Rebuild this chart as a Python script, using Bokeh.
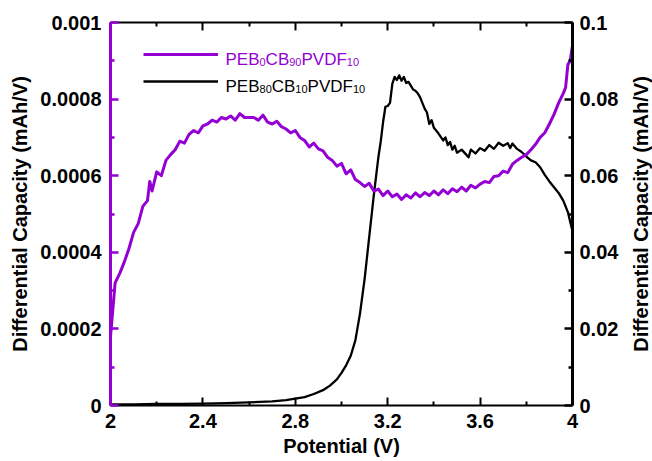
from bokeh.plotting import figure
from bokeh.layouts import row
from bokeh.models import (Range1d, LinearAxis, FixedTicker, CustomJSTickFormatter,
                          Legend, LegendItem)
from bokeh.core.properties import value
from bokeh.embed import file_html
from bokeh.resources import INLINE

# ---------------- data ----------------
potential_purple = [2.00, 2.01, 2.02, 2.04, 2.06, 2.08, 2.10, 2.12, 2.14, 2.16, 2.17, 2.18, 2.20,
                    2.22, 2.24, 2.26, 2.28, 2.30, 2.32, 2.34, 2.36, 2.38, 2.40, 2.42, 2.44,
                    2.46, 2.48, 2.50, 2.52, 2.54, 2.56, 2.58, 2.60, 2.62, 2.64, 2.66, 2.68,
                    2.70, 2.72, 2.74, 2.76, 2.78, 2.80, 2.82, 2.84, 2.86, 2.88, 2.90, 2.92,
                    2.94, 2.96, 2.98, 3.00, 3.02, 3.04, 3.06, 3.08, 3.10, 3.12, 3.14, 3.16,
                    3.18, 3.20, 3.22, 3.24, 3.26, 3.28, 3.30, 3.32, 3.34, 3.36, 3.38, 3.40,
                    3.42, 3.44, 3.46, 3.48, 3.50, 3.52, 3.54, 3.56, 3.58, 3.60, 3.62, 3.64,
                    3.66, 3.68, 3.70, 3.72, 3.74, 3.76, 3.78, 3.80, 3.82, 3.84, 3.86, 3.88,
                    3.90, 3.92, 3.94, 3.96, 3.97, 3.98, 3.99, 4.00]
capacity_purple = [0.000180, 0.000250, 0.000320, 0.000345, 0.000375, 0.000410, 0.000452, 0.000475,
                   0.000520, 0.000535, 0.000585, 0.000560, 0.000610, 0.000600, 0.000640, 0.000655,
                   0.000668, 0.000690, 0.000685, 0.000708, 0.000718, 0.000712, 0.000730, 0.000735,
                   0.000745, 0.000740, 0.000752, 0.000748, 0.000756, 0.000745, 0.000762, 0.000752,
                   0.000752, 0.000752, 0.000745, 0.000758, 0.000740, 0.000735, 0.000742, 0.000728,
                   0.000722, 0.000712, 0.000718, 0.000700, 0.000692, 0.000675, 0.000685, 0.000670,
                   0.000665, 0.000648, 0.000640, 0.000625, 0.000632, 0.000605, 0.000615, 0.000590,
                   0.000582, 0.000572, 0.000580, 0.000560, 0.000565, 0.000548, 0.000560, 0.000545,
                   0.000552, 0.000538, 0.000550, 0.000542, 0.000555, 0.000545, 0.000556, 0.000548,
                   0.000560, 0.000550, 0.000563, 0.000553, 0.000566, 0.000558, 0.000570, 0.000560,
                   0.000575, 0.000568, 0.000578, 0.000585, 0.000582, 0.000598, 0.000600, 0.000612,
                   0.000608, 0.000630, 0.000640, 0.000648, 0.000655, 0.000668, 0.000682, 0.000700,
                   0.000712, 0.000735, 0.000760, 0.000790, 0.000815, 0.000830, 0.000890, 0.000900,
                   0.000940]

potential_black = [2.00, 2.10, 2.20, 2.30, 2.40, 2.50, 2.60, 2.70, 2.76, 2.80, 2.84, 2.88, 2.92,
                   2.95, 2.98, 3.00, 3.02, 3.04, 3.06, 3.08, 3.10, 3.12, 3.14, 3.16, 3.17, 3.18,
                   3.19, 3.20, 3.21, 3.22, 3.23, 3.24, 3.25, 3.26, 3.27, 3.28, 3.29, 3.30, 3.31,
                   3.32, 3.33, 3.34, 3.35, 3.36, 3.37, 3.38, 3.39, 3.40, 3.42, 3.44, 3.45, 3.46,
                   3.47, 3.48, 3.49, 3.50, 3.52, 3.54, 3.55, 3.56, 3.58, 3.60, 3.62, 3.64, 3.66,
                   3.68, 3.70, 3.72, 3.73, 3.74, 3.76, 3.78, 3.80, 3.82, 3.84, 3.86, 3.88, 3.90,
                   3.92, 3.94, 3.96, 3.98, 3.99, 4.00]
capacity_black = [0.0003, 0.0003, 0.0004, 0.0004, 0.0005, 0.0006, 0.0008, 0.0011, 0.0014, 0.0018,
                  0.0022, 0.0030, 0.0040, 0.0052, 0.0068, 0.0085, 0.0105, 0.0130, 0.0170, 0.0240,
                  0.0330, 0.0440, 0.0550, 0.0650, 0.0690, 0.0740, 0.0780, 0.0782, 0.0790, 0.0840,
                  0.0858, 0.0850, 0.0862, 0.0848, 0.0858, 0.0842, 0.0845, 0.0835, 0.0825, 0.0822,
                  0.0815, 0.0805, 0.0790, 0.0775, 0.0765, 0.0735, 0.0745, 0.0725, 0.0710, 0.0692,
                  0.0700, 0.0680, 0.0688, 0.0668, 0.0678, 0.0660, 0.0668, 0.0655, 0.0648, 0.0668,
                  0.0658, 0.0672, 0.0665, 0.0680, 0.0670, 0.0686, 0.0678, 0.0685, 0.0672, 0.0684,
                  0.0670, 0.0662, 0.0650, 0.0640, 0.0635, 0.0622, 0.0602, 0.0585, 0.0570, 0.0555,
                  0.0535, 0.0505, 0.0480, 0.0455]

x_major_ticks = [2.0, 2.4, 2.8, 3.2, 3.6, 4.0]
x_minor_ticks = [2.2, 2.6, 3.0, 3.4, 3.8]
left_major_ticks = [0.0, 0.0002, 0.0004, 0.0006, 0.0008, 0.001]
left_minor_ticks = [0.0001, 0.0003, 0.0005, 0.0007, 0.0009]
right_major_ticks = [0.0, 0.02, 0.04, 0.06, 0.08, 0.1]
right_minor_ticks = [0.01, 0.03, 0.05, 0.07, 0.09]

y_title = "Differential Capacity (mAh/V)"
x_title = "Potential (V)"

# legend texts: (piece, is_subscript)
legend_purple = [("PEB", False), ("0", True), ("CB", False), ("90", True), ("PVDF", False), ("10", True)]
legend_black = [("PEB", False), ("80", True), ("CB", False), ("10", True), ("PVDF", False), ("10", True)]

# ---------------- styling ----------------
PURPLE = "#9400D3"
BLACK = "#000000"
FONT = "Liberation Sans"
MAIN_PX = 17
SUB_PX = 11

p = figure(width=621, height=461, output_backend="svg", toolbar_location=None,
           x_range=Range1d(2, 4), y_range=Range1d(0, 0.001),
           min_border_left=110, min_border_right=49, min_border_top=22, min_border_bottom=56,
           x_axis_location=None, y_axis_location=None)
p.extra_y_ranges = {"right": Range1d(0, 0.1)}
p.grid.visible = False
p.outline_line_color = None
p.background_fill_color = "white"
p.border_fill_color = "white"

fmt = CustomJSTickFormatter(code="return String(parseFloat(tick.toFixed(6)));")
empty_fmt = CustomJSTickFormatter(code="return '';")


def style_axis(ax, color, width):
    ax.axis_line_color = color
    ax.axis_line_width = width
    ax.major_tick_line_color = color
    ax.minor_tick_line_color = color
    ax.major_tick_line_width = min(width, 2.5)
    ax.minor_tick_line_width = min(width, 2.5)
    ax.major_tick_in = 8
    ax.major_tick_out = 0
    ax.minor_tick_in = 4
    ax.minor_tick_out = 0
    ax.major_label_text_font = FONT
    ax.major_label_text_font_style = "bold"
    ax.major_label_text_font_size = "20px"
    ax.major_label_text_color = "black"
    ax.axis_label_text_font = FONT
    ax.axis_label_text_font_style = "bold"
    ax.axis_label_text_font_size = "20px"
    ax.axis_label_text_color = "black"


bottom = LinearAxis(ticker=FixedTicker(ticks=x_major_ticks, minor_ticks=x_minor_ticks),
                    formatter=fmt, axis_label=x_title)
style_axis(bottom, BLACK, 2)
bottom.major_label_standoff = 8
bottom.axis_label_standoff = 4
p.add_layout(bottom, "below")

top = LinearAxis(ticker=FixedTicker(ticks=x_major_ticks, minor_ticks=x_minor_ticks),
                 formatter=empty_fmt)
style_axis(top, BLACK, 2)
top.major_label_text_font_size = "0px"
top.major_label_standoff = 0
p.add_layout(top, "above")

left = LinearAxis(ticker=FixedTicker(ticks=left_major_ticks, minor_ticks=left_minor_ticks),
                  formatter=fmt, axis_label=y_title)
style_axis(left, PURPLE, 3)
left.major_label_standoff = 9
left.axis_label_standoff = 6
p.add_layout(left, "left")

right = LinearAxis(y_range_name="right",
                   ticker=FixedTicker(ticks=right_major_ticks, minor_ticks=right_minor_ticks),
                   formatter=fmt)
style_axis(right, BLACK, 3)
right.major_label_standoff = 7
p.add_layout(right, "right")

r_black = p.line(potential_black, capacity_black, y_range_name="right",
                 line_color=BLACK, line_width=2.3, line_join="round")
r_purple = p.line(potential_purple, capacity_purple,
                  line_color=PURPLE, line_width=3, line_join="round")

# legend swatches (Bokeh legend, labels drawn separately for subscripts)
legend = Legend(items=[LegendItem(label=" ", renderers=[r_purple]),
                       LegendItem(label=" ", renderers=[r_black])],
                location=(33, 314), glyph_width=75, glyph_height=20, spacing=7,
                padding=0, margin=0, label_width=0, label_standoff=0,
                label_text_font_size="10px", label_height=20,
                border_line_color=None, background_fill_alpha=0)
p.add_layout(legend)


def char_w(ch):
    widths = {"P": 0.667, "E": 0.667, "B": 0.667, "C": 0.722, "V": 0.667,
              "D": 0.722, "F": 0.611}
    return widths.get(ch, 0.556)


def draw_label(pieces, y_base, color):
    xoff = 0.0
    for txt, sub in pieces:
        size = SUB_PX if sub else MAIN_PX
        p.text(x=[2.4978], y=[y_base], text=[txt], x_offset=xoff, y_offset=3 if sub else 0,
               text_font=value(FONT), text_font_size=f"{size}px", text_color=color,
               text_baseline="alphabetic", text_align="left")
        xoff += sum(char_w(c) for c in txt) * size


draw_label(legend_purple, 0.0009034, PURPLE)
draw_label(legend_black, 0.000833, BLACK)

# narrow companion panel carrying the right-hand axis title (reads bottom-to-top)
p2 = figure(width=31, height=461, output_backend="svg", toolbar_location=None,
            x_range=Range1d(0, 1), y_range=Range1d(0, 0.1),
            min_border_left=30, min_border_right=0, min_border_top=22, min_border_bottom=56,
            x_axis_location=None, y_axis_location=None)
p2.grid.visible = False
p2.outline_line_color = None
p2.border_fill_color = "white"
title_axis = LinearAxis(ticker=FixedTicker(ticks=[]), formatter=empty_fmt, axis_label=y_title)
title_axis.axis_line_color = None
title_axis.major_tick_line_color = None
title_axis.minor_tick_line_color = None
title_axis.major_label_text_font_size = "0px"
title_axis.major_label_standoff = 0
title_axis.axis_label_standoff = 0
title_axis.axis_label_text_font = FONT
title_axis.axis_label_text_font_style = "bold"
title_axis.axis_label_text_font_size = "20px"
title_axis.axis_label_text_color = "black"
p2.add_layout(title_axis, "left")

layout = row(p, p2, spacing=0)
open("out.html", "w").write(file_html(layout, INLINE))
